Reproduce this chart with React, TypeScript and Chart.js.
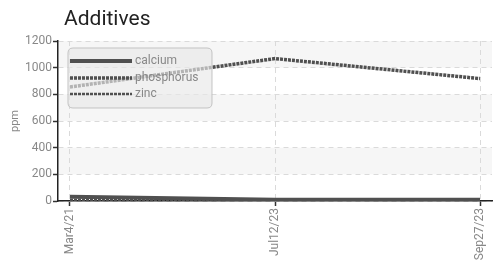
import React, { useEffect, useRef } from "react";
import { Chart, registerables } from "chart.js";

Chart.register(...registerables);

const categories = ["Mar4/21", "Jul12/23", "Sep27/23"];
const calcium = [32, 10, 10];
const phosphorus = [855, 1068, 918];
const zinc = [8, 3, 4];
const yTicks = [0, 200, 400, 600, 800, 1000, 1200];
const seriesNames = ["calcium", "phosphorus", "zinc"];

const LINE = "#505050";
const FONT = "Roboto, 'DejaVu Sans', sans-serif";

const bandsPlugin = {
  id: "bands",
  beforeDraw(chart: any) {
    const { ctx, chartArea } = chart;
    const y = chart.scales.y;
    ctx.save();
    ctx.fillStyle = "#f6f6f6";
    for (let i = 0; i < yTicks.length - 1; i++) {
      if (i % 2 === 1) {
        const top = y.getPixelForValue(yTicks[i + 1]);
        const bot = y.getPixelForValue(yTicks[i]);
        ctx.fillRect(chartArea.left, top, chartArea.right - chartArea.left, bot - top);
      }
    }
    ctx.restore();
  },
};

const decorPlugin = {
  id: "decor",
  afterDraw(chart: any) {
    const { ctx, chartArea } = chart;
    ctx.save();
    // title
    ctx.fillStyle = "#222";
    ctx.font = `21px ${FONT}`;
    ctx.textBaseline = "alphabetic";
    ctx.textAlign = "left";
    ctx.fillText("Additives", 64, 25);
    // y title
    ctx.save();
    ctx.translate(15, (chartArea.top + chartArea.bottom) / 2);
    ctx.rotate(-Math.PI / 2);
    ctx.fillStyle = "#888";
    ctx.font = `11px ${FONT}`;
    ctx.textAlign = "center";
    ctx.textBaseline = "middle";
    ctx.fillText("ppm", 0, 0);
    ctx.restore();
    // legend box
    const bx = 68, by = 48, bw = 144, bh = 60, r = 5;
    ctx.beginPath();
    ctx.moveTo(bx + r, by);
    ctx.lineTo(bx + bw - r, by);
    ctx.quadraticCurveTo(bx + bw, by, bx + bw, by + r);
    ctx.lineTo(bx + bw, by + bh - r);
    ctx.quadraticCurveTo(bx + bw, by + bh, bx + bw - r, by + bh);
    ctx.lineTo(bx + r, by + bh);
    ctx.quadraticCurveTo(bx, by + bh, bx, by + bh - r);
    ctx.lineTo(bx, by + r);
    ctx.quadraticCurveTo(bx, by, bx + r, by);
    ctx.closePath();
    ctx.fillStyle = "rgba(232,232,232,0.65)";
    ctx.fill();
    ctx.strokeStyle = "rgba(190,190,190,0.9)";
    ctx.lineWidth = 1;
    ctx.stroke();
    const ds = chart.data.datasets;
    const rows = [61, 78, 94];
    ds.forEach((d: any, i: number) => {
      ctx.save();
      ctx.strokeStyle = d.borderColor;
      ctx.lineWidth = d.borderWidth;
      ctx.setLineDash(d.borderDash || []);
      ctx.beginPath();
      ctx.moveTo(70, rows[i]);
      ctx.lineTo(132, rows[i]);
      ctx.stroke();
      ctx.restore();
      ctx.fillStyle = "#888";
      ctx.font = `12px ${FONT}`;
      ctx.textAlign = "left";
      ctx.textBaseline = "middle";
      ctx.fillText(seriesNames[i], 135, rows[i]);
    });
    ctx.restore();
  },
};

export default function App() {
  const ref = useRef<HTMLCanvasElement>(null);
  useEffect(() => {
    const mk = (vals: number[]) => vals.map((v, i) => ({ x: i, y: v }));
    const chart = new Chart(ref.current!, {
      type: "line",
      data: {
        datasets: [
          { label: seriesNames[0], data: mk(calcium), borderColor: LINE, borderWidth: 4, pointRadius: 0, borderDash: [] },
          { label: seriesNames[1], data: mk(phosphorus), borderColor: LINE, borderWidth: 3.5, pointRadius: 0, borderDash: [3, 1] },
          { label: seriesNames[2], data: mk(zinc), borderColor: LINE, borderWidth: 2.5, pointRadius: 0, borderDash: [3, 1] },
        ] as any,
      },
      options: {
        animation: false,
        responsive: false,
        maintainAspectRatio: false,
        layout: { padding: { top: 41, left: 0, right: 11, bottom: 0 } },
        plugins: { legend: { display: false }, tooltip: { enabled: false }, title: { display: false } },
        scales: {
          x: {
            type: "linear",
            min: -0.0585,
            max: 2.0585,
            afterBuildTicks: (s: any) => {
              s.ticks = categories.map((_, i) => ({ value: i }));
            },
            afterFit: (s: any) => {
              s.height = 61;
            },
            ticks: {
              callback: (v: any) => categories[v] ?? "",
              maxRotation: 90,
              minRotation: 90,
              padding: 2,
              color: "#888",
              font: { family: FONT, size: 12 },
            },
            grid: { color: "#dadada", tickColor: "#333", tickLength: 5, tickWidth: 1.5, tickBorderDash: [] } as any,
            border: { display: true, color: "#222", width: 1.5, dash: [5, 4] } as any,
          },
          y: {
            min: 0,
            max: 1200,
            afterBuildTicks: (s: any) => {
              s.ticks = yTicks.map((v) => ({ value: v }));
            },
            afterFit: (s: any) => {
              s.width = 58;
            },
            ticks: {
              callback: (v: any) => String(v),
              padding: 1,
              color: "#888",
              font: { family: FONT, size: 12 },
            },
            grid: { color: "#dadada", tickColor: "#333", tickLength: 5, tickWidth: 1.5, tickBorderDash: [] } as any,
            border: { display: true, color: "#222", width: 1.5, dash: [5, 4] } as any,
          },
        },
      } as any,
      plugins: [bandsPlugin, decorPlugin],
    });
    return () => chart.destroy();
  }, []);
  return (
    <div style={{ position: "fixed", left: 0, top: 0, width: 503, height: 262, background: "#fff" }}>
      <canvas ref={ref} width={503} height={262} style={{ width: 503, height: 262 }} />
    </div>
  );
}
